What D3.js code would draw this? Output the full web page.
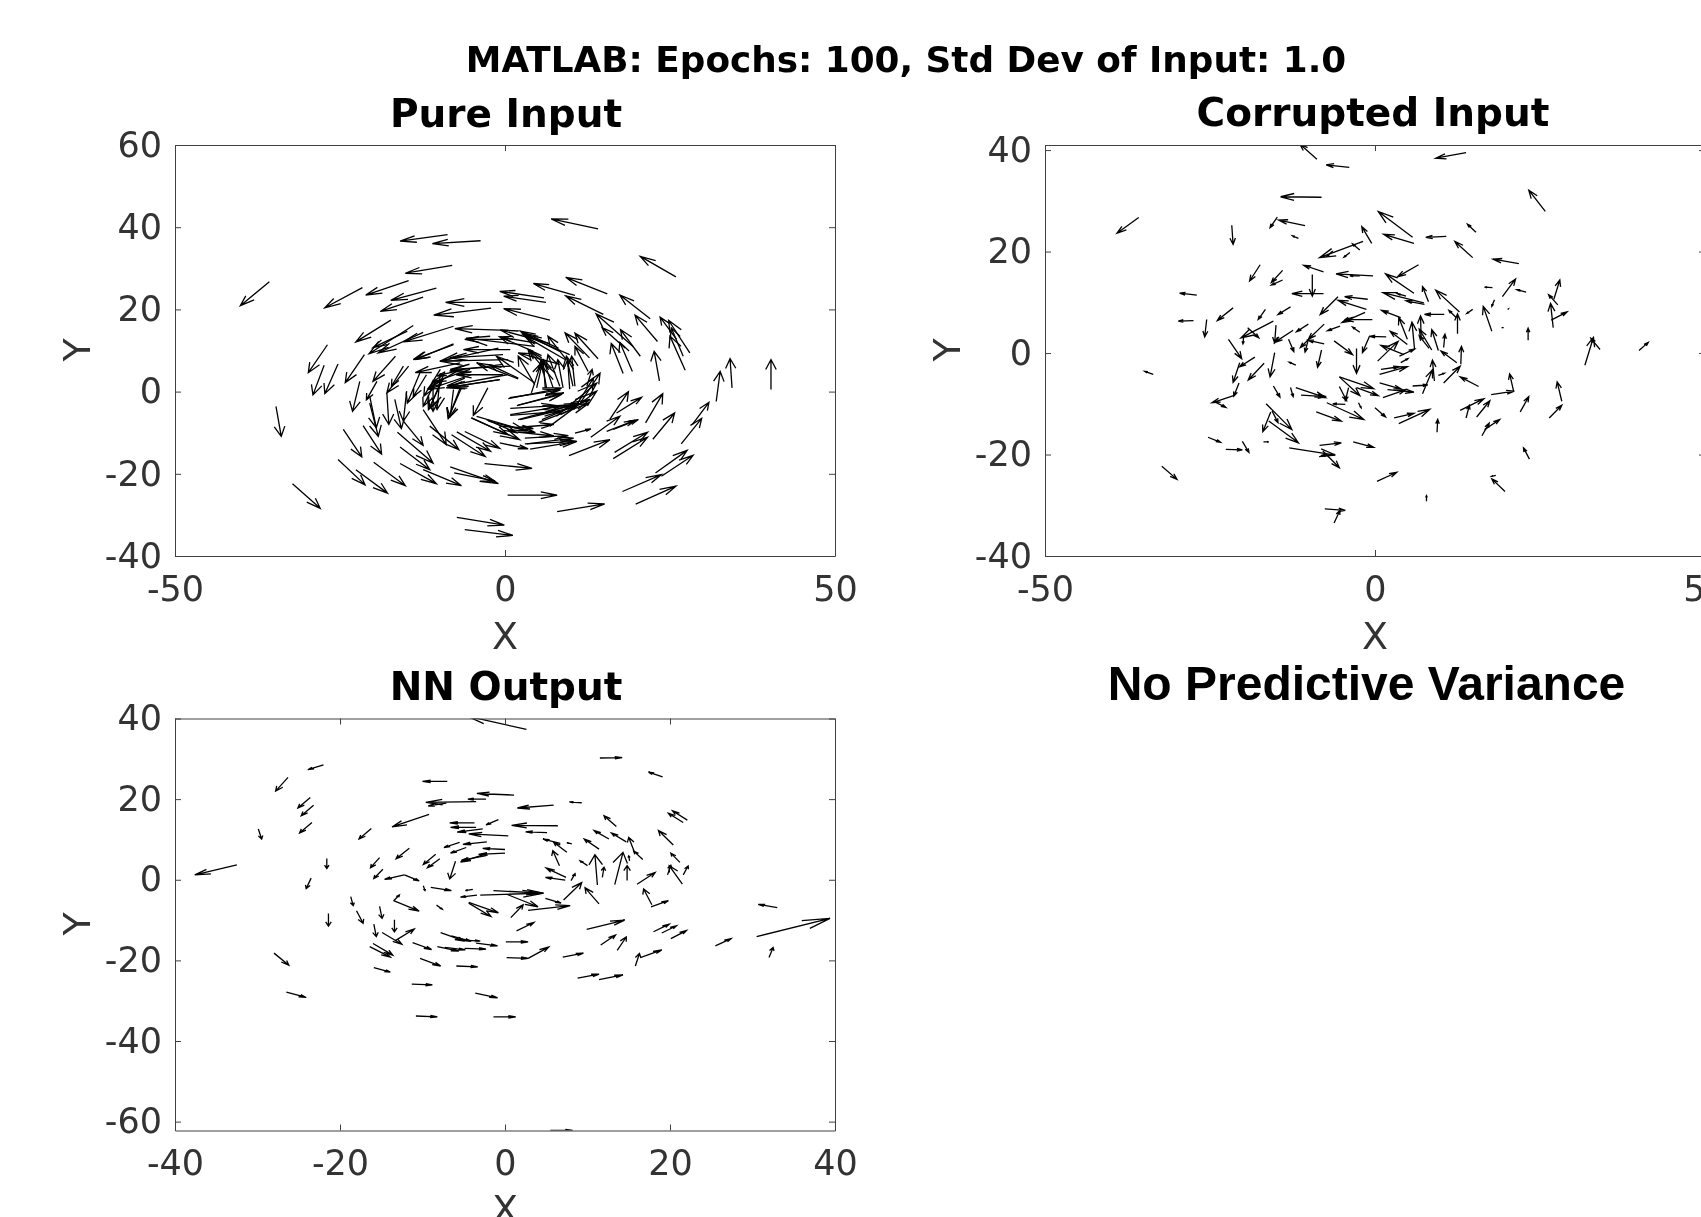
<!DOCTYPE html>
<html>
<head>
<meta charset="utf-8">
<script src="https://d3js.org/d3.v7.min.js"></script>
<style>
html, body { margin: 0; padding: 0; background: #fff; overflow: hidden; }
svg { display: block; filter: blur(0.45px); }
text { font-family: "DejaVu Sans", sans-serif; }
</style>
</head>
<body>
<div id="chart"></div>
<script>
var pureInput = [
[-8.7,38.2,-7.2,-1.6],[-3.7,36.7,-7.3,-0.7],[-8.0,30.7,-7.1,-1.9],[-35.7,26.7,-4.4,-5.8],[-14.6,27.0,-6.5,-3.5],
[-21.6,25.3,-5.7,-4.9],[-10.4,25.2,-6.9,-3.0],[-12.4,23.0,-6.5,-3.5],[-0.4,21.7,-8.6,0],[-2.1,20.3,-8.7,-1.7],
[-17.3,17.4,-5.3,-5.3],[-13.9,16.1,-6.7,-6.9],[-12.4,14.4,-6.8,-5.0],[-14.8,14.7,-5.2,-4.0],[-7.8,15.9,-7.6,-3.8],
[0.5,14.9,-8.1,0.4],[-7.8,11.6,-5.8,-3.8],[-26.9,11.4,-2.9,-6.8],[-27.4,6.4,-1.7,-7.2],[-25.3,6.7,-2.0,-7.2],
[-21.3,9.0,-2.9,-6.8],[-16.6,8.6,-3.4,-6.1],[-14.6,6.2,-3.3,-6.5],[-22.0,2.5,-1.1,-7.3],[-19.4,2.5,-1.6,-4.5],
[-17.9,-0.3,0.3,-7.7],[-14.9,0.1,-0.5,-7.3],[-12.9,4.5,-1.9,-7.3],[-16.7,-1.9,1.0,-7.1],[-34.7,-3.6,0.8,-7.3],
[-20.5,-1.1,1.0,-7.7],[-24.5,-9.2,2.8,-6.7],[-21.5,-8.3,2.8,-6.9],[-20.5,-2.8,1.3,-8.1],[-16.3,-9.9,5.4,-7.5],
[-15.4,-7.2,3.0,-5.9],[-15.9,-13.5,4.5,-5.5],[-19.9,-17.2,4.8,-5.7],[-15.9,-17.5,5.5,-4.9],[-25.3,-16.5,4.1,-6.2],
[-22.6,-19.0,4.8,-5.7],[-12.4,-19.0,5.8,-3.9],[-32.2,-22.4,4.2,-6.0],[-8.3,-18.3,7.3,-4.1],[-7.7,-19.8,6.2,-2.0],
[-3.1,-17.5,7.2,-1.2],[-7.3,-30.6,7.2,-1.9],[-6.1,-33.6,7.3,-1.4],[-12.4,-4.4,3.5,-8.5],[-11.4,-8.4,4.4,-5.7],
[-8.1,-10.5,5.1,-5.3],[-7.3,-9.8,5.1,-4.7],[-6.1,-9.7,5.3,-4.1],[-5.1,-6.4,5.6,-4.1],[-2.8,-6.8,4.5,-3.2],
[-2.6,0.9,-2.2,-6.7],[-6.8,0.9,-1.8,-7.5],[-7.8,0.5,-0.5,-6.5],[-10.4,2.9,-2.0,-6.5],[-9.1,4.9,-2.3,-8.9],
[-9.8,4.5,-0.5,-8.9],[-10.9,2.9,0,-7.7],[-11.9,4.1,-2.0,-5.3],[-0.3,4.1,-7.1,0],[-0.8,2.9,-8.1,-2.0],
[0.5,7.8,-10.4,-0.4],[-0.3,9.0,-8.1,-0.8],[0.8,10.2,-7.1,0],[0.8,6.2,-9.1,-0.8],[0.5,12.7,-6.6,0],
[-6.3,5.4,-4.0,-1.6],[-6.8,7.0,-6.8,-2.4],[-15.4,6.2,-1.8,-4.9],
[14.1,39.6,-7.1,2.4],[25.9,27.9,-5.4,5.0],[15.5,23.8,-6.3,4.0],[22.0,17.7,-4.6,5.8],[10.6,23.4,-6.3,2.9],
[14.9,18.8,-5.7,4.5],[5.9,22.8,-6.7,1.6],[6.2,21.7,-6.4,1.5],[6.8,17.4,-7.0,2.8],[23.1,12.2,-3.4,6.4],
[20.5,8.6,-3.0,6.5],[19.4,11.0,-5.6,7.9],[18.2,10.6,-3.5,5.0],[17.9,4.4,-1.8,7.3],[19.3,4.9,-1.9,7.1],
[23.4,2.6,-0.8,7.2],[28.0,9.4,-3.2,7.9],[26.0,12.7,-2.5,5.4],[27.3,5.2,-2.3,8.3],[27.0,8.6,-1.8,6.9],
[34.4,0.9,-0.3,7.1],[40.3,0.5,0,7.3],[32.0,-2.4,0.6,7.3],[14.1,8.0,-3.5,6.2],[12.8,8.2,-3.7,6.1],
[12.6,4.9,-2.0,6.1],[9.3,7.8,-2.8,5.7],[8.1,10.6,-5.8,4.1],[9.1,7.8,-6.1,5.7],[7.6,4.5,-4.0,5.7],
[10.6,1.3,-0.5,7.3],[9.8,0.6,-0.3,7.1],[8.8,0.9,-0.8,6.9],[7.3,0.9,-1.5,6.9],[6.1,0.9,-0.3,6.5],
[4.8,0.9,0.8,5.7],[4.5,1.7,-2.5,6.9],[2.0,3.3,-4.3,3.2],[4.3,9.8,-5.1,3.5],[0.7,-1.5,7.7,1.9],
[2.0,-3.3,6.6,2.6],[0.8,-4.1,7.1,0.7],[0.8,-5.8,7.6,1.0],[2.3,-6.8,8.6,3.2],[5.1,-7.5,7.6,4.7],
[6.8,-8.4,7.1,8.5],[11.4,-2.8,3.0,7.3],[12.4,1.3,0.8,4.1],[10.6,-10.1,2.4,1.0],[3.8,-14.0,7.1,1.9],
[3.3,-12.7,7.1,1.4],[0.8,-9.7,6.6,-1.1],[-0.8,-12.5,4.3,-1.4],[9.7,-15.6,6.2,3.9],[13.0,-11.1,4.4,5.1],
[15.4,-9.7,4.3,2.7],[15.9,-6.7,2.8,6.7],[16.9,-5.2,3.8,3.8],[16.4,-9.2,3.8,2.4],[21.3,-7.6,2.6,7.1],
[22.4,-11.6,3.3,6.4],[16.6,-14.8,5.0,4.9],[16.4,-16.3,5.2,5.2],[26.7,-12.7,3.1,6.2],[28.4,-8.0,2.5,5.4],
[22.8,-19.8,4.8,5.5],[23.7,-20.6,4.8,5.1],[17.8,-24.3,5.9,4.1],[19.8,-27.4,6.1,4.4],[7.9,-29.2,7.2,1.9],
[0.4,-25.2,7.5,0],[6.6,11.8,-7.3,3.2],[4.8,11.8,-5.6,1.5],[5.1,-5.6,6.1,2.8],[3.0,-11.3,6.6,0.6],
[-0.8,-8.4,5.1,-0.6],[1.3,-8.8,6.1,0.8],
[4.5,11,-10.4,2.0],[-1,10.6,-8.8,-3.2],[-0.3,6.6,-8.1,-1.6],[0.3,4.1,-9.1,-2.7],[-0.8,2.9,-7.6,-1.8],
[2,3.1,-6.3,3.9],[4.5,2.1,-5.8,6.5],[-7.8,11.4,-6.1,-3.6],[-5.3,5.4,-5.8,-3.2],[-5.1,4.1,-6.6,-3.6],
[-6.8,5.4,-4.8,-4.5],[-9.8,5.4,-2.5,-6.5],[-9.3,3.3,-2.3,-7.7],[-6.6,0.9,-2,-7.3],[8.3,6.6,-6.3,2.8],
[7.3,2.9,-3.8,7.3],[10.3,1.3,-1,7.3],[8.3,1.3,-1.8,7.7],[6.3,0.9,-0.8,6.9],[4,-0.3,1.5,7.3],
[9.8,9,-7.1,4.9],[8.3,9.8,-5.6,4.5],[0.5,-1.7,8.1,2.6],[1.8,-3.4,7.1,3.1],[0.8,-5.6,7.6,2],
[2,-6.8,8.3,3.6],[5.6,-6.8,7.3,4.9],[7.8,-6,6.1,8.1],[10.4,-4.4,3,7.7],[3,-12.7,7.8,0.6],
[-2.5,-7.2,7.1,-2.8],[-5.1,-6.4,7.3,-5.3],[-4.3,-6,7.6,-3.6]
];

var corruptedInput = [
[-8.8,38.2,-2.6,3.0],[-3.9,36.6,-3.5,0.5],[-8.1,30.7,-6.2,0.1],[-35.8,26.7,-3.3,-3.1],[-21.7,25.2,0.2,-3.8],
[-14.8,26.8,-1.1,-2.1],[-10.6,25.1,-4.0,1.1],[-11.6,22.6,-0.9,0.5],[-0.5,21.6,-1.5,3.3],[-1.8,22.0,-6.6,-3.2],
[-2.3,20.3,-1.1,1.2],[-3.8,19.8,-0.9,-0.9],[-6.4,20.1,-0.9,-1.0],[-17.4,17.4,-1.6,-3.2],[-14,16.3,-1.7,-2.4],
[-14,14.4,-1.7,-1.0],[-7.8,16,-3.0,1.3],[-9.5,15.5,0,-4.3],[-7.8,11.7,-4.8,0],[-0.3,15.2,-5.6,0.4],
[-2.3,15.2,-1.5,0],[-1.1,10.6,-3.5,0.5],[-5.6,11.1,-2.7,-3.5],[-27,11.4,-2.6,0.4],[-27.5,6.4,-2.3,-0.1],
[-21.5,8.9,-2.4,-2.5],[-16.6,8.6,-1.1,-2.0],[-12.8,9.1,-1.9,-1.5],[-15.4,6.3,-4.9,-3.3],[-19.3,5,1.7,-2],
[-19.9,3.4,-0.1,-1.6],[-25.5,6.6,-0.3,-3.4],[-15,5.5,-0.2,-3.5],[-12.4,4.5,-2.8,-2.4],[-10.1,5.7,-1.8,-1.5],
[-7.7,5.7,-2.4,-3],[-5.3,5.3,-1.9,-0.9],[-2.3,4.1,-1.1,1],[-1.3,8.6,-4.3,1.8],[-1.5,8,-3.5,-2],
[-0.4,6.6,-4.2,0],[-22.2,2.7,2,-3.8],[-18.2,-0.8,-2.3,-1.9],[-20.5,-1.9,-1,-3.9],[-16.8,-2,-2.4,-3.3],
[-15.2,0.1,-0.7,-4.8],[-13.1,2.7,0.8,-2.4],[-12,-2.4,-1,0.6],[-8.1,0.6,-0.6,-3.4],[-7.7,1.8,-2.4,0.7],
[-9.5,3.4,-1.8,-2.3],[-10.1,2.7,-0.5,-2.5],[-6.2,2.4,2.8,-2.7],[-2.8,0.9,0,-4.9],[1.7,3.2,-2.5,0.1],
[-0.8,3.4,-1.1,-3.3],[-33.6,-4.2,-1.3,0.6],[-20.6,-5.9,-0.8,-2.6],[-21.2,-8.3,-3.5,-1.5],[-24.5,-9.5,1.9,-1.2],
[-15.4,-6.5,1,-2.2],[-12.8,-6.8,0.4,-1.8],[-12,-6.8,4.5,-2],[-11.2,-8.3,3.8,-0.3],[-5.4,-4.7,5.2,-2.3],
[-5.4,-4.7,3.1,-3.7],[-5.4,-6.6,1.1,-2.8],[-4,-6.8,-0.5,-2.6],[-2.8,-6.8,3.3,-1.6],[-7.3,-9.8,5.6,-3.3],
[-4.5,-10.1,-1.9,0.1],[-2.5,-9.8,0.4,-1],[-8.9,-11.6,3.8,-1.8],[0,-10.8,1.6,-1.8],[-16.5,-10,3.9,-5.1],
[-15.8,-11.6,-1.2,-3.9],[-15.6,-11.4,0.9,-2.3],[-16.1,-13.4,4.5,-4.3],[-25.3,-16.6,1.9,-1],[-22.6,-19,2.5,-0.1],
[-20.1,-17.4,1,-2.2],[-16.9,-17.5,0.8,0],[-13,-18.7,7,-1.4],[-8.4,-18.2,3.3,0.5],[-7.9,-19.3,2.5,-3.3],
[-6.1,-20,-2.1,-0.2],[-3.3,-17.5,3.1,-1.1],[-32.3,-22.3,2.3,-2.6],[-7.6,-30.7,3.1,-0.3],[-6.2,-33.5,0.9,2.5],
[13.8,39.5,-4.6,-1.1],[25.8,27.9,-2.5,4.2],[5.7,22.8,-5.2,5.1],[5.9,21.6,-4.6,1.8],[10.8,23,-3.1,-0.2],
[15.3,23.8,-1.3,1.6],[14.8,18.8,-2.7,3.2],[21.8,17.6,-3.9,0.9],[6.6,17.4,-3.2,-2.4],[5.9,11.8,-4.3,3.8],
[17.8,12.9,-1.2,0.1],[19.3,11.1,2,3.5],[22.9,12,-1.4,0.5],[27.7,9.5,-1.4,2],[27.1,10.6,0.9,3.8],
[27,5,-0.4,4.8],[26.7,6.5,2.4,1.6],[8.1,10.1,-0.9,3],[12.8,8.1,-3.6,4.3],[7.4,9.9,-6.2,2],
[4.7,11.2,-1.3,0.5],[7.5,9.6,-2.8,0.7],[14.8,8.6,-0.9,-0.8],[18.1,10.5,-0.4,-1.3],[17.7,4.3,-1.3,4.9],
[19.5,5,-0.3,0],[20.1,8.6,0.1,0.1],[23.2,2.5,0,2.4],[31.8,-2.4,1.3,5.5],[34.1,0.7,-1.4,2.2],
[40,0.5,1.4,1.6],[10.5,7.6,-3,0],[12.5,3.8,0,3.9],[12.3,7,-1.1,1.4],[3.9,7,-2.9,1.4],
[4.9,2.7,-1.3,4.3],[6,0.7,-0.4,5.4],[7,2.7,-0.1,4.6],[8.6,0.6,-1.9,4.1],[8.2,0.9,-1.5,2.5],
[9.6,0.5,-1,4.1],[10.4,1.1,0.2,2.6],[4.9,1.7,-2.6,2.6],[0.4,-1.6,3.1,3.9],[4.4,-0.3,-3.5,1.8],
[3.7,-0.6,2.3,1.4],[3.9,-1.9,1.1,0.8],[12.4,-1.9,-2.4,2.3],[13,-2.2,0.1,3.5],[10.4,-5.9,2.5,3.3],
[9,-5.5,-0.3,4.1],[7.2,-8,1.5,4.7],[5.7,-6.5,2.3,0.2],[9.6,-4.4,0.9,0.4],[0.7,-4.2,4.2,1.5],
[0.9,-3.2,2.8,0.5],[15.7,-6.6,-2.8,1.9],[17.6,-8.2,3.5,0.7],[21,-7.5,-0.6,3.4],[28.3,-9.5,-0.7,3.8],
[26.4,-12.8,1.9,2.5],[22,-11.6,1.3,3],[13.8,-12.8,0.5,2.5],[12.9,-11.3,3.6,2.3],[15.4,-12.6,2,3.2],
[16.2,-16.3,1.1,2.5],[16.6,-15.1,2.3,2],[9.4,-15.6,0.1,2.5],[3.6,-13.9,4.7,2.8],[2.9,-12.8,3,0.9],
[1.2,-8.8,3.5,1.6],[0.7,-5.9,3.3,-1.2],[1.9,-7.2,4,-0.5],[0.3,-25.3,3,1.8],[7.8,-29.2,0,1.1],
[23.4,-20.9,-0.9,2.2],[19.7,-27.3,-2,2.5],[18.3,-24.1,-0.6,-0.2]
];

var nnOutput = [
[2.6,37.3,-7.2,3.3],[-22,28.5,-1.9,-1.2],[-26.3,25.4,-1.5,-3.4],[-23.6,20.4,-1.5,-2.6],[-23.2,18.5,-1.5,-2.6],
[-23.4,14.2,-1.5,-2.6],[-29.9,12.6,0.4,-2.5],[-32.5,3.7,-5.1,-2.5],[-21.6,5.3,0,-2.5],[-23.5,0.4,-0.6,-2.6],
[-21.4,-8.4,0,-3.1],[-18.7,-4.2,0.3,-2.2],[-18,-7.7,0.8,-3.1],[-15.2,-6.6,0.3,-3],[-15.9,-11,0.3,-3.1],
[-13.4,-9.9,0,-3],[-28,-18.2,1.8,-3],[-26.5,-27.9,2.4,-1.3],[-16,-15.8,2.4,-2.9],[-16.4,-16.6,2.5,-2.6],
[-14.9,-13.1,2.4,-2.9],[-13.3,-15.1,2.3,2.9],[-15.9,-21.8,2,-1.1],[-11.2,-15.6,2.3,-1.7],[-10.3,-19.5,2.5,-1.9],
[-11.3,-25.9,2.5,-0.2],[-10.8,-33.8,2.6,-0.2],[-3.6,-28.1,2.7,-1.2],[-1.4,-34,2.7,0],[-5.9,-21.4,2.6,-0.2],
[-8.2,-16.6,2.6,-1.1],[-7.8,-13.1,2.9,-2.1],[-6.5,-13.9,2.4,-1.4],[-4.9,-17,2.6,-0.2],[-7.3,-16.8,2.5,-0.6],
[-3.5,-15.7,2.6,-0.7],[-5,-15,2,-0.2],[-13.5,-5.2,3.1,-2.6],[-13.5,-5.2,0.7,1.4],[-8.3,-6.3,0.7,-1],
[-12.2,1.2,-2.4,-1.1],[-12.2,1.2,1.8,-1.5],[-15.2,5.5,-1.1,-2.5],[-14.8,2.6,-1.1,-2.3],[-16.2,12.7,-1.5,-2.6],
[-11.6,7.8,-1.6,-2.6],[-8.4,6.3,-1.5,-2.5],[-7.9,5.2,-1.5,-2.2],[-9.9,-1.5,0.2,-1.2],[-9,-1.9,2.5,-0.8],
[-6,4.6,-0.7,-4.4],[-9.2,16.2,-4.5,-3.1],[-5.5,9.3,-1.9,-1.3],[-4.7,8,-1.9,-1.4],[-2.2,9.4,-2.9,-0.6],
[-2.2,6.5,-3.2,-2.1],[-2.3,6,-3,-1.2],[0,7.5,-2.7,0.3],[0,6.6,-3.2,-0.3],[-3.7,14.1,-3,0],
[-3.5,13,-3.1,0],[-2.7,12.6,-3.1,-0.8],[0.4,10.9,-4.8,0.5],[-0.8,14.9,-1.5,-1.3],[-2.3,20,-2.2,0],
[-3.5,19.4,-6.1,-0.2],[-7.1,19,-2.2,-0.7],[1.1,21,-4.5,0.4],[-7,24.4,-3,0],[-3.9,-2.4,-0.9,-0.3],
[-3.4,-3.8,-2,-0.5],[-3,-3.8,7.7,0.5],[-1.4,-2.7,6,-0.6],[-4.4,-5.6,3.6,-2.6],[-4.4,-5.8,2.7,-3.3],
[11.5,30.2,2.7,0.1],[19.1,25.5,-1.7,1.2],[5.9,18.5,-4.4,-0.7],[9.3,19.1,-1.5,0.2],[22.1,14.8,-1.8,2.3],
[21.6,14.2,-1.8,2.3],[13.5,13.2,-1.5,2.7],[20.4,8.6,-1.8,3.6],[6.4,13.4,-5.6,0.1],[5.1,11.7,-2.6,0.2],
[7.5,6.8,-1.6,2.5],[6.7,9,-2.1,1.1],[8.1,8.9,-0.6,0.3],[6.6,3.5,-0.8,3.7],[11.4,7.6,-1.8,2.5],
[12.6,10.1,-1.8,2.1],[14.7,9.4,-1.8,2.2],[15.7,6.8,-0.7,3.7],[16.7,5,-1.1,2.1],[21.2,4.3,-1.1,2.3],
[21.5,-1.1,-1.6,4.6],[19.7,1.2,0.4,2.4],[21.6,1.2,0.6,2.2],[16,-1.1,2.2,2.9],[14.8,-0.2,0,3.7],
[13.3,-1.2,1,8],[11.2,-1.3,-0.3,7.5],[10,3.5,-0.9,1.2],[11.8,0.6,0.2,2.5],[11.4,-6,-1.7,4],
[7.1,-5,2.2,4.3],[7.4,0.6,-2.4,2.3],[7.3,-0.1,-2.4,0.7],[8,-0.2,0.5,1.7],[15.1,4.7,-0.1,1.2],
[17.8,-6.2,-1,3.9],[17.7,-6.7,2.1,1.5],[33,-6.9,-2.3,0.8],[30.5,-14.1,8.9,4.5],[25.5,-16.4,1.9,1.8],
[32,-19.3,0.5,2.5],[18,-12.9,1.9,1.9],[19,-13.2,1.8,1.8],[20.1,-14.6,1.9,2],[9.9,-12.3,4.6,2.3],
[11.6,-16.2,1.8,2.5],[13.6,-17.5,1.1,3.3],[15.8,-21.4,0.5,3.1],[16.4,-19.3,2.6,1.9],[7,-19.2,2.5,1],
[8.8,-24.4,2.6,1],[11.4,-24.8,2.9,1.2],[2.8,-19.5,2.5,2.8],[0.2,-19.3,2.6,-0.2],[0.1,-15.4,2.7,0],
[1.4,-12.7,2.1,2.1],[0.7,-9.4,1.5,3.2],[2.8,-7.6,5.1,1.2],[4.9,-4.6,1.9,-1.2],[0.2,-3.6,3.8,-3.1],
[5.5,-62.2,2.7,0]
];

var pureXTicks = [-50, 0, 50];
var pureYTicks = [-40, -20, 0, 20, 40, 60];
var corruptedXTicks = [-50, 0, 50];
var corruptedYTicks = [-40, -20, 0, 20, 40];
var nnXTicks = [-40, -20, 0, 20, 40];
var nnYTicks = [-60, -40, -20, 0, 20, 40];

var svg = d3.select("#chart").append("svg").attr("width", 1701).attr("height", 1217);

var axisColor = "#404040";
var textColor = "#333333";
var tickFont = 35;
var labelFont = 38;
var panelTitleFont = 39;
var titleFont = 35.8;

// MATLAB quiver head, worked out in data units so it skews with the aspect
var alpha = 0.33, beta = 0.33;

function drawPanel(id, rows, box, xDomain, yDomain, xTicks, yTicks, title, titleX, titleY, ylabelY, xlabelY) {
  var x = d3.scaleLinear().domain(xDomain).range([box.left, box.right]);
  var y = d3.scaleLinear().domain(yDomain).range([box.bottom, box.top]);

  svg.append("clipPath").attr("id", id)
    .append("rect")
    .attr("x", box.left).attr("y", box.top)
    .attr("width", box.right - box.left).attr("height", box.bottom - box.top);

  var g = svg.append("g").attr("clip-path", "url(#" + id + ")");
  g.selectAll("path")
    .data(rows)
    .enter().append("path")
      .attr("fill", "none")
      .attr("stroke", "#000")
      .attr("stroke-width", 1.3)
      .attr("d", function(d) {
        var hx = d[0] + d[2], hy = d[1] + d[3];
        return "M" + x(d[0]) + "," + y(d[1]) + "L" + x(hx) + "," + y(hy) +
          "M" + x(hx - alpha * (d[2] + beta * d[3])) + "," + y(hy - alpha * (d[3] - beta * d[2])) +
          "L" + x(hx) + "," + y(hy) +
          "L" + x(hx - alpha * (d[2] - beta * d[3])) + "," + y(hy - alpha * (d[3] + beta * d[2]));
      });

  var fmt = function(d) { return String(d); };
  var blank = function() { return ""; };

  var axes = [
    ["translate(0," + box.bottom + ")", d3.axisBottom(x).tickValues(xTicks).tickFormat(fmt).tickPadding(20)],
    ["translate(0," + box.top + ")", d3.axisTop(x).tickValues(xTicks).tickFormat(blank)],
    ["translate(" + box.left + ",0)", d3.axisLeft(y).tickValues(yTicks).tickFormat(fmt).tickPadding(13)],
    ["translate(" + box.right + ",0)", d3.axisRight(y).tickValues(yTicks).tickFormat(blank)]
  ];
  axes.forEach(function(a) {
    var ag = svg.append("g")
      .attr("transform", a[0])
      .call(a[1].tickSizeInner(-6).tickSizeOuter(0));
    ag.selectAll("path, line").attr("stroke", axisColor).attr("stroke-width", 1);
    ag.selectAll("text")
      .attr("fill", textColor)
      .attr("font-family", "DejaVu Sans")
      .attr("font-size", tickFont);
  });

  svg.append("text")
    .attr("x", titleX).attr("y", titleY)
    .attr("text-anchor", "middle")
    .attr("font-weight", "bold")
    .attr("font-size", panelTitleFont)
    .text(title);

  svg.append("text")
    .attr("x", box.left + (Math.min(box.right, box.left + 660) - box.left) / 2).attr("y", xlabelY)
    .attr("text-anchor", "middle")
    .attr("fill", textColor)
    .attr("font-size", labelFont)
    .text("X");

  svg.append("text")
    .attr("transform", "translate(" + (box.left - 85) + "," + ylabelY + ") rotate(-90)")
    .attr("text-anchor", "middle")
    .attr("fill", textColor)
    .attr("font-size", labelFont)
    .text("Y");
}

drawPanel("clipPure", pureInput, {left: 175, right: 835, top: 145, bottom: 556},
  [-50, 50], [-40, 60], pureXTicks, pureYTicks, "Pure Input", 506, 127, 350, 649);

drawPanel("clipCorrupted", corruptedInput, {left: 1045, right: 1705, top: 145, bottom: 556},
  [-50, 50], [-40, 41], corruptedXTicks, corruptedYTicks, "Corrupted Input", 1373, 126, 350, 649);

drawPanel("clipNN", nnOutput, {left: 175, right: 835, top: 718.5, bottom: 1130.5},
  [-40, 40], [-62.2, 40], nnXTicks, nnYTicks, "NN Output", 506, 700, 924, 1222);

svg.append("text")
  .attr("x", 906).attr("y", 72)
  .attr("text-anchor", "middle")
  .attr("font-weight", "bold")
  .attr("font-size", titleFont)
  .text("MATLAB: Epochs: 100, Std Dev of Input: 1.0");

svg.append("text")
  .attr("x", 1366.5).attr("y", 700)
  .attr("text-anchor", "middle")
  .style("font-family", "'Liberation Sans', Arial, sans-serif")
  .attr("font-weight", "bold")
  .attr("font-size", 48)
  .text("No Predictive Variance");
</script>
</body>
</html>
